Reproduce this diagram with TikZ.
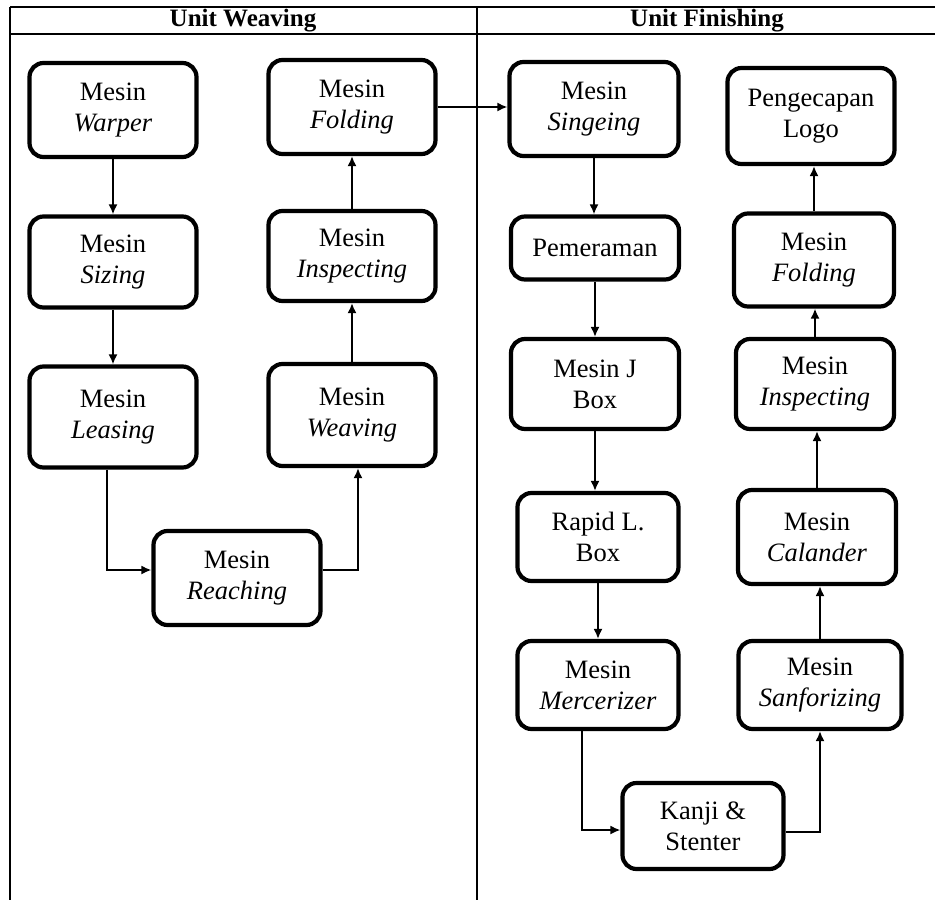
\documentclass[tikz,border=0pt]{standalone}
\usepackage{fontspec}
\setmainfont{Liberation Serif}
\usetikzlibrary{arrows.meta}

\begin{document}
\begin{tikzpicture}[x=1pt,y=-1pt,
	box/.style={draw,line width=4.2pt,rounded corners=14pt,align=center,inner sep=2pt,
		font=\fontsize{26.5}{31}\selectfont,minimum width=167pt,minimum height=94pt},
	conn/.style={line width=1.8pt,-{Latex[length=10pt,width=9pt]}},
	grid/.style={line width=2.2pt},
	head/.style={font=\fontsize{25}{30}\selectfont\bfseries}]
	\useasboundingbox (0,0) rectangle (935,900) ;
	% table frame
	\draw [grid] (10,7) -- (935,7) ;
	\draw [grid] (10,34) -- (935,34) ;
	\draw [grid] (10,7) -- (10,900) ;
	\draw [grid] (477,7) -- (477,900) ;
	\node [head] (hw) at (243,21) {Unit Weaving} ;
	\node [head] (hf) at (707,21) {Unit Finishing} ;
	% unit weaving
	\node [box] (warper) at (113,110) {Mesin\\\textit{Warper}} ;
	\node [box,minimum height=91pt] (sizing) at (113,262) {Mesin\\\textit{Sizing}} ;
	\node [box,minimum height=101pt] (leasing) at (113,417) {Mesin\\\textit{Leasing}} ;
	\node [box] (reaching) at (237,578) {Mesin\\\textit{Reaching}} ;
	\node [box,minimum height=102pt] (weaving) at (352,415) {Mesin\\\textit{Weaving}} ;
	\node [box,minimum height=90pt] (inspectL) at (352,256) {Mesin\\\textit{Inspecting}} ;
	\node [box] (foldL) at (352,107) {Mesin\\\textit{Folding}} ;
	% unit finishing
	\node [box,minimum width=169pt] (singeing) at (594,109) {Mesin\\\textit{Singeing}} ;
	\node [box,minimum height=63pt,minimum width=168pt] (pemeraman) at (595,248) {Pemeraman} ;
	\node [box,minimum height=90pt,minimum width=168pt] (jbox) at (595,384) {Mesin J\\Box} ;
	\node [box,minimum height=88pt,minimum width=161pt] (rapid) at (598,537) {Rapid L.\\Box} ;
	\node [box,minimum height=88pt,minimum width=161pt] (mercer) at (598,685) {Mesin\\\textit{Mercerizer}} ;
	\node [box,minimum height=86pt,minimum width=161pt] (kanji) at (703,826) {Kanji \&\\Stenter} ;
	\node [box,minimum height=88pt,minimum width=163pt] (sanfor) at (820,685) {Mesin\\\textit{Sanforizing}} ;
	\node [box,minimum width=158pt] (calander) at (817,537) {Mesin\\\textit{Calander}} ;
	\node [box,minimum height=90pt,minimum width=158pt] (inspectR) at (815,384) {Mesin\\\textit{Inspecting}} ;
	\node [box,minimum height=93pt,minimum width=160pt] (foldR) at (814,260) {Mesin\\\textit{Folding}} ;
	\node [box,minimum height=96pt] (logo) at (811,116) {Pengecapan\\Logo} ;
	% connectors weaving
	\draw [conn] (warper) -- (sizing) ;
	\draw [conn] (sizing) -- (leasing) ;
	\draw [conn] ([xshift=-6pt]leasing.south) |- ([yshift=8pt]reaching.west) ;
	\draw [conn] ([yshift=8pt]reaching.east) -| ([xshift=6pt]weaving.south) ;
	\draw [conn] (weaving) -- (inspectL) ;
	\draw [conn] (inspectL) -- (foldL) ;
	\draw [conn] (foldL.east) -- (foldL.east -| singeing.west) ;
	% connectors finishing
	\draw [conn] (singeing.south) -- (singeing.south |- pemeraman.north) ;
	\draw [conn] (pemeraman) -- (jbox) ;
	\draw [conn] (jbox.south) -- (jbox.south |- rapid.north) ;
	\draw [conn] (rapid.south) -- (rapid.south |- mercer.north) ;
	\draw [conn] ([xshift=-16pt]mercer.south) |- ([yshift=-4pt]kanji.west) ;
	\draw [conn] ([yshift=-6pt]kanji.east) -| (sanfor.south) ;
	\draw [conn] (sanfor.north) -- (sanfor.north |- calander.south) ;
	\draw [conn] (calander.north) -- (calander.north |- inspectR.south) ;
	\draw [conn] (inspectR.north) -- (inspectR.north |- foldR.south) ;
	\draw [conn] (foldR.north) -- (foldR.north |- logo.south) ;
\end{tikzpicture}
\end{document}
